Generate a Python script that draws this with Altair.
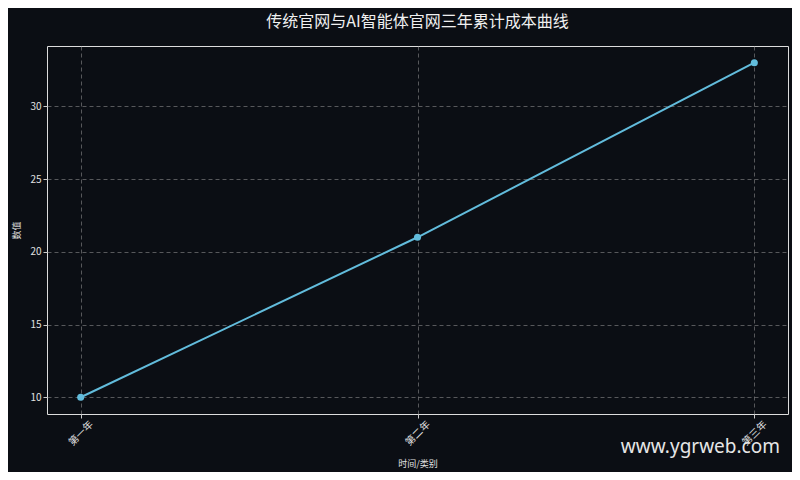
import altair as alt
import pandas as pd

categories = ["第一年", "第二年", "第三年"]
values = [10, 21, 33]

df = pd.DataFrame({"cat": categories, "val": values, "idx": [0, 1, 2]})

FONT = "Noto Sans CJK SC"
BG = "#0b0e14"
LINE = "#62bcdc"

x_enc = alt.X(
    "idx:Q",
    scale=alt.Scale(domain=[-0.1, 2.1], nice=False, zero=False),
    axis=alt.Axis(
        title="时间/类别",
        values=[0, 1, 2],
        labelExpr="['第一年','第二年','第三年'][datum.value]",
        labelAngle=-45,
        labelAlign="center",
        labelBaseline="middle",
        labelPadding=15,
        labelFontSize=10,
        labelColor="#e0e0e0",
        titleFontSize=9,
        titleColor="#e0e0e0",
        titleFontWeight="normal",
        titlePadding=12,
        tickSize=4,
        tickColor="#cccccc",
        grid=True,
        gridColor="#8a8a8a",
        gridOpacity=0.6,
        gridDash=[4, 3],
        domain=False,
    ),
)
y_enc = alt.Y(
    "val:Q",
    scale=alt.Scale(domain=[8.85, 34.15], nice=False, zero=False),
    axis=alt.Axis(
        title="数值",
        values=[10, 15, 20, 25, 30],
        labelFontSize=10,
        labelColor="#e0e0e0",
        titleFontSize=9,
        titleColor="#e0e0e0",
        titleFontWeight="normal",
        titlePadding=8,
        tickSize=4,
        tickColor="#cccccc",
        grid=True,
        gridColor="#8a8a8a",
        gridOpacity=0.6,
        gridDash=[4, 3],
        domain=False,
    ),
)

line = alt.Chart(df).mark_line(color=LINE, strokeWidth=2).encode(x=x_enc, y=y_enc)
pts = alt.Chart(df).mark_point(filled=True, color=LINE, size=50, opacity=1).encode(
    x="idx:Q", y="val:Q"
)
wm = alt.Chart(pd.DataFrame({"t": ["www.ygrweb.com"]})).mark_text(
    font="Noto Sans", fontSize=19, color="#e6e6e6", align="right", baseline="alphabetic"
).encode(text="t:N", x=alt.value(733), y=alt.value(407))

chart = (
    alt.layer(line, pts, wm)
    .properties(
        width=741,
        height=368,
        padding={"left": 39, "top": 38, "right": 4, "bottom": 58},
        autosize=alt.AutoSizeParams(type="none"),
        background=BG,
        title=alt.Title(
            "传统官网与AI智能体官网三年累计成本曲线",
            font=FONT,
            fontSize=16,
            fontWeight="normal",
            color="#f0f0f0",
            offset=16,
        ),
    )
    .configure_view(stroke="#c8c8c8", strokeWidth=1.2, fill=BG)
    .configure(font=FONT)
)

chart.save("out.html", embed_options={"renderer": "svg", "actions": False})
